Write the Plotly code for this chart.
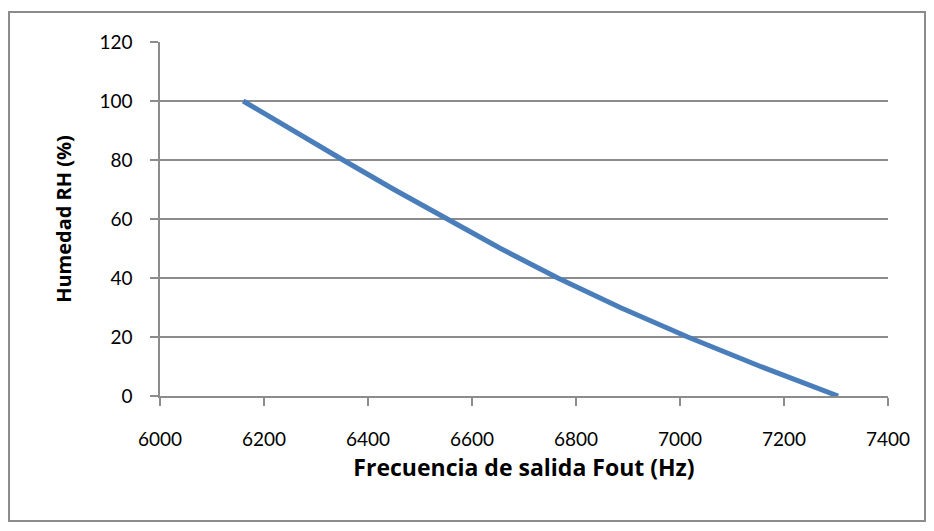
import plotly.graph_objects as go

freq_hz = [6160, 6255, 6352, 6450, 6554, 6655, 6765, 6885, 7015, 7155, 7304]
humidity_pct = [100, 90, 80, 70, 60, 50, 40, 30, 20, 10, 0]
x_ticks = [6000, 6200, 6400, 6600, 6800, 7000, 7200, 7400]
y_ticks = [0, 20, 40, 60, 80, 100, 120]

FONT = "Lato, Open Sans, sans-serif"
TFONT = "Open Sans, Lato, sans-serif"
GRID = "#8c8c8c"

fig = go.Figure()
fig.add_trace(go.Scatter(x=freq_hz, y=humidity_pct, mode="lines",
                         line=dict(color="#4A7EBB", width=5), showlegend=False,
                         hoverinfo="x+y"))

fig.update_layout(
    width=934, height=531,
    margin=dict(l=160, r=46, t=42, b=135),
    paper_bgcolor="white", plot_bgcolor="white",
    font=dict(family=FONT, size=19, color="black"),
    xaxis=dict(range=[6000, 7400], tickvals=x_ticks, ticktext=[str(v) for v in x_ticks],
               showgrid=False, zeroline=False, showline=True, linecolor=GRID, linewidth=1.5,
               ticks="outside", ticklen=8, tickcolor=GRID, tickwidth=1.5,
               ticklabelstandoff=17,
               title=dict(text="<b>Frecuencia de salida Fout (Hz)</b>",
                          font=dict(family=TFONT, size=23), standoff=11)),
    yaxis=dict(range=[0, 120], tickvals=y_ticks, ticktext=[str(v) for v in y_ticks],
               showgrid=True, gridcolor=GRID, gridwidth=1.5, zeroline=False,
               showline=True, linecolor=GRID, linewidth=1.5,
               ticks="outside", ticklen=8, tickcolor=GRID, tickwidth=1.5,
               ticklabelstandoff=14,
               title=dict(text="<b>Humedad RH (%)</b>",
                          font=dict(family=TFONT, size=20), standoff=22)),
    shapes=[dict(type="rect", xref="paper", yref="paper",
                 x0=-151/728, x1=(925-160)/728, y0=(396-521)/354, y1=(396-12)/354,
                 line=dict(color="#8c8c8c", width=2), fillcolor="rgba(0,0,0,0)", layer="below")],
)

fig.write_html("out.html")
